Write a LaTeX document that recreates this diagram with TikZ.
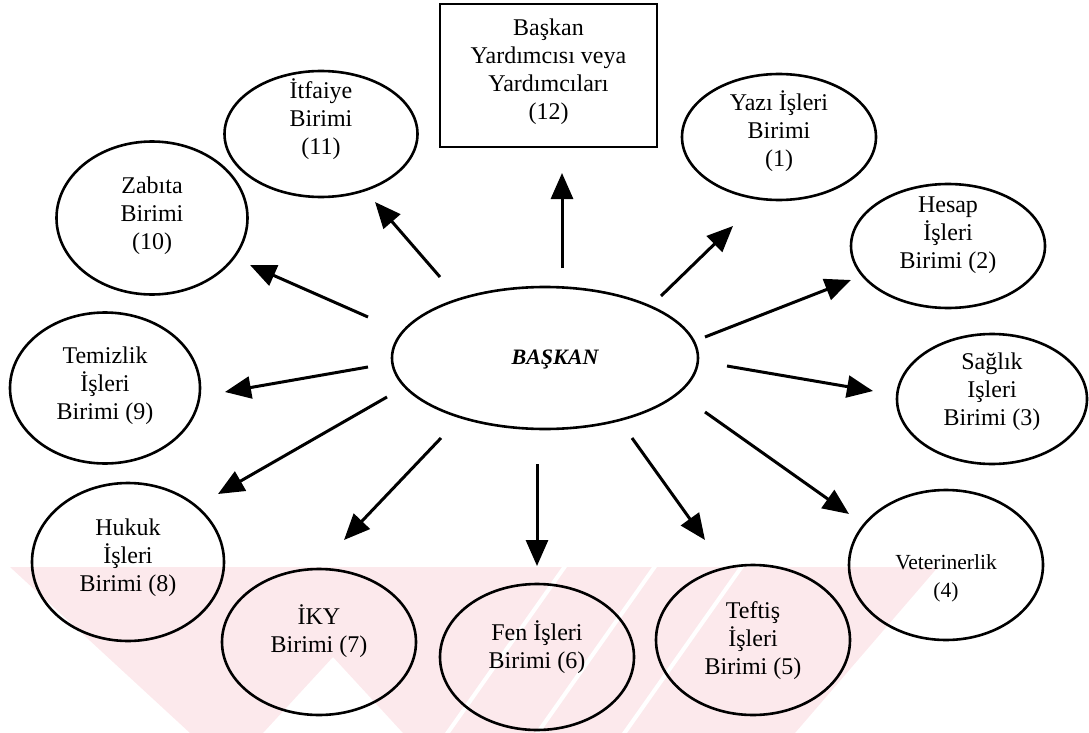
\documentclass[tikz,border=0pt]{standalone}
\usepackage{fontspec}
\setmainfont{Liberation Serif}
\usetikzlibrary{arrows.meta,shapes.geometric}
\definecolor{wmpink}{RGB}{252,233,236}
\tikzset{
  unit/.style={draw, line width=2.6pt, ellipse, inner sep=0pt},
  box/.style={draw, line width=2.6pt, rectangle, inner sep=0pt},
  lbl/.style={align=center, inner sep=0pt, font=\fontsize{24}{28}\selectfont},
  small/.style={align=center, inner sep=0pt, font=\fontsize{21.5}{28}\selectfont},
  arr/.style={line width=3pt, -{Triangle[length=26pt,width=22pt]}},
}
\begin{document}
\begin{tikzpicture}[x=1pt,y=-1pt]
\useasboundingbox (0,0) rectangle (1089,733);

% background mark
\fill[wmpink] (10,567) -- (938,567) -- (795,733) -- (403,733) -- (333,657) -- (263,733) -- (190,733) -- cycle;
\foreach \t in {562,652,739}{
  \fill[white] (\t,567) -- (\t+5,567) -- (\t+5-117,733) -- (\t-117,733) -- cycle;
}

% central unit
\node[unit, minimum width=306pt, minimum height=142pt] (bas) at (545,358) {};
\node[inner sep=0pt, font=\fontsize{22}{26}\selectfont\bfseries\itshape] (bas-t) at (555,360) {BAŞKAN};

% deputy box
\node[box, minimum width=217pt, minimum height=143pt] (bsy) at (548.5,75.5) {};
\node[lbl] (bsy-t) at (548.5,72) {Başkan\\Yardımcısı veya\\Yardımcıları\\(12)};

% units
\node[unit, minimum width=194pt, minimum height=126pt] (yaz) at (779,137) {};
\node[lbl] (yaz-t) at (779,131) {Yazı İşleri\\Birimi\\(1)};

\node[unit, minimum width=194pt, minimum height=124pt] (hes) at (948,246) {};
\node[lbl] (hes-t) at (948,235) {Hesap\\İşleri\\Birimi (2)};

\node[unit, minimum width=190pt, minimum height=130pt] (sag) at (992,399) {};
\node[lbl] (sag-t) at (992,392) {Sağlık\\Işleri\\Birimi (3)};

\node[unit, minimum width=194pt, minimum height=150pt] (vet) at (946,565) {};
\node[small] (vet-t) at (946,578) {Veterinerlik\\(4)};

\node[unit, minimum width=194pt, minimum height=150pt] (tef) at (753,640) {};
\node[lbl] (tef-t) at (753,641) {Teftiş\\İşleri\\Birimi (5)};

\node[unit, minimum width=194pt, minimum height=146pt] (fen) at (537,657) {};
\node[lbl] (fen-t) at (537,647) {Fen İşleri\\Birimi (6)};

\node[unit, minimum width=194pt, minimum height=146pt] (iky) at (319,642) {};
\node[lbl] (iky-t) at (319,631) {İKY\\Birimi (7)};

\node[unit, minimum width=192pt, minimum height=158pt] (huk) at (128,562) {};
\node[lbl] (huk-t) at (128,558) {Hukuk\\İşleri\\Birimi (8)};

\node[unit, minimum width=190pt, minimum height=151pt] (tem) at (105,388) {};
\node[lbl] (tem-t) at (105,386) {Temizlik\\İşleri\\Birimi (9)};

\node[unit, minimum width=191pt, minimum height=153pt] (zab) at (152,218) {};
\node[lbl] (zab-t) at (152,216) {Zabıta\\Birimi\\(10)};

\node[unit, minimum width=193pt, minimum height=126pt] (itf) at (321,134) {};
\node[lbl] (itf-t) at (321,119) {İtfaiye\\Birimi\\(11)};

% arrow end points
\coordinate (s12) at (562,268); \coordinate (e12) at (562,173);
\coordinate (s1)  at (661,296); \coordinate (e1)  at (733,226);
\coordinate (s2)  at (705,337); \coordinate (e2)  at (851,280);
\coordinate (s3)  at (727,366); \coordinate (e3)  at (873,391);
\coordinate (s4)  at (705,412); \coordinate (e4)  at (849,514);
\coordinate (s5)  at (632,438); \coordinate (e5)  at (705,540);
\coordinate (s6)  at (537,464); \coordinate (e6)  at (537,566);
\coordinate (s7)  at (441,438); \coordinate (e7)  at (344,540);
\coordinate (s8)  at (387,397); \coordinate (e8)  at (218,494);
\coordinate (s9)  at (368,367); \coordinate (e9)  at (225,392);
\coordinate (s10) at (368,317); \coordinate (e10) at (250,265);
\coordinate (s11) at (440,277); \coordinate (e11) at (375,202);

\foreach \k in {1,...,12}{
  \draw[arr] (s\k) -- (e\k);
}
\end{tikzpicture}
\end{document}
